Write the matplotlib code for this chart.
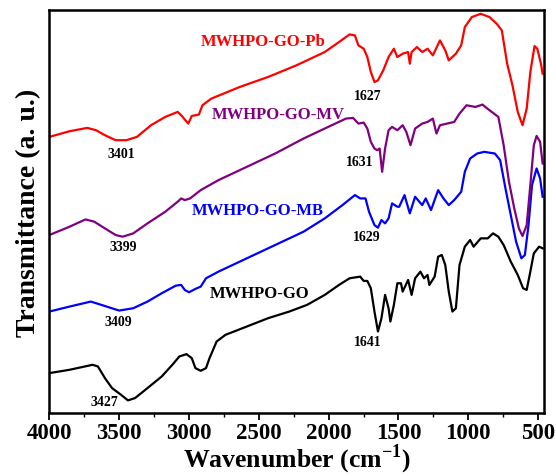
import matplotlib
matplotlib.use("Agg")
import matplotlib.pyplot as plt
from matplotlib.ticker import MultipleLocator

# wavenumber (cm-1) and transmittance (arbitrary, offset)
go_x = [4000, 3855, 3690, 3652, 3602, 3551, 3487, 3437, 3386, 3297, 3195, 3119, 3069, 3018,
        2980, 2954, 2916, 2878, 2853, 2802, 2739, 2586, 2434, 2282, 2155, 2028, 1926, 1850,
        1774, 1749, 1723, 1698, 1672, 1647, 1622, 1596, 1571, 1558, 1533, 1508, 1482, 1470,
        1431, 1406, 1381, 1343, 1317, 1292, 1279, 1241, 1216, 1190, 1165, 1140, 1114, 1089,
        1063, 1025, 987, 962, 911, 861, 823, 785, 747, 696, 646, 608, 582, 556, 531, 493, 468]
go_y = [120, 130, 145, 140, 105, 75, 55, 38, 45, 75, 110, 145, 170, 177,
        165, 135, 127, 135, 165, 215, 235, 260, 285, 305, 325, 355, 385, 405,
        410, 397, 397, 375, 305, 245, 285, 355, 315, 275, 325, 390, 390, 365,
        400, 355, 405, 425, 405, 415, 385, 410, 470, 475, 445, 365, 305, 315,
        445, 500, 520, 500, 525, 525, 540, 530, 505, 455, 415, 375, 370, 425, 480, 500, 495]

mb_x = [4000, 3855, 3703, 3627, 3500, 3399, 3297, 3195, 3094, 3056, 3030, 3000, 2954, 2916,
        2878, 2789, 2586, 2383, 2180, 2028, 1901, 1812, 1774, 1736, 1711, 1672, 1647, 1622,
        1596, 1571, 1546, 1508, 1495, 1457, 1419, 1381, 1330, 1305, 1267, 1216, 1178, 1140,
        1101, 1051, 1025, 987, 937, 886, 810, 772, 734, 696, 658, 620, 595, 569, 544, 511, 486, 468]
mb_y = [305, 320, 335, 325, 308, 315, 335, 360, 383, 385, 370, 363, 373, 380,
        405, 425, 465, 505, 545, 585, 625, 655, 645, 645, 605, 565, 557, 580,
        570, 585, 630, 620, 620, 655, 600, 650, 625, 645, 610, 670, 645, 625,
        640, 665, 725, 765, 780, 785, 780, 760, 675, 595, 515, 465, 475, 565, 685, 735, 705, 650]

mv_x = [4000, 3855, 3741, 3678, 3602, 3525, 3475, 3399, 3297, 3170, 3081, 3056, 3030, 2992,
        2916, 2789, 2586, 2383, 2180, 2003, 1876, 1825, 1787, 1749, 1723, 1698, 1672, 1652,
        1635, 1617, 1596, 1571, 1546, 1508, 1470, 1444, 1414, 1381, 1330, 1292, 1254, 1228,
        1203, 1152, 1101, 1063, 1013, 949, 899, 848, 785, 747, 709, 671, 638, 612, 582, 556,
        531, 511, 486, 468]
mv_y = [535, 560, 582, 575, 555, 535, 530, 540, 570, 605, 635, 645, 640, 645,
        670, 700, 740, 780, 825, 860, 885, 887, 870, 873, 855, 815, 795, 790,
        795, 725, 795, 850, 860, 850, 865, 845, 805, 855, 870, 875, 885, 840,
        865, 870, 875, 900, 925, 920, 927, 910, 890, 805, 695, 615, 555, 532, 565, 685,
        805, 833, 815, 750]

pb_x = [4000, 3855, 3728, 3665, 3602, 3525, 3449, 3373, 3272, 3170, 3081, 3056, 3005, 2980,
        2929, 2904, 2840, 2637, 2434, 2231, 2028, 1926, 1850, 1812, 1787, 1749, 1723, 1698,
        1672, 1647, 1609, 1571, 1533, 1508, 1470, 1431, 1419, 1406, 1368, 1330, 1292, 1254,
        1203, 1165, 1140, 1089, 1051, 1025, 975, 911, 848, 797, 760, 722, 684, 646, 612, 582,
        556, 526, 506, 480, 468]
pb_y = [830, 847, 857, 850, 835, 820, 820, 830, 865, 890, 905, 895, 870, 893,
        897, 925, 945, 980, 1010, 1045, 1085, 1115, 1138, 1135, 1105, 1095, 1070, 1025,
        995, 1000, 1030, 1070, 1095, 1070, 1080, 1085, 1050, 1085, 1100, 1085, 1095, 1075,
        1120, 1090, 1060, 1080, 1105, 1160, 1190, 1200, 1190, 1170, 1150, 1050, 985, 905, 865, 915,
        1025, 1103, 1095, 1050, 1020]

names = ["MWHPO-GO", "MWHPO-GO-MB", "MWHPO-GO-MV", "MWHPO-GO-Pb"]
colors = ["black", "#0000ff", "#800080", "#ff0000"]
name_pos = [(2492, 360), (2510, 610), (2358, 900), (2472, 1117)]

peaks = ["3427", "3409", "3399", "3401", "1641", "1629", "1631", "1627"]
peak_pos = [(3607, 35), (3505, 275), (3470, 500), (3487, 780),
            (1723, 215), (1729, 530), (1779, 755), (1723, 955)]

plt.rcParams["font.family"] = ["Liberation Serif", "DejaVu Serif"]
plt.rcParams["font.weight"] = "bold"
plt.rcParams["mathtext.fontset"] = "custom"
plt.rcParams["mathtext.bf"] = "Liberation Serif:bold"
plt.rcParams["mathtext.rm"] = "Liberation Serif:bold"

fig = plt.figure(figsize=(5.56, 4.77), dpi=100)
ax = fig.add_axes([0.0887, 0.132, 0.890, 0.844])

for xs, ys, c in zip([go_x, mb_x, mv_x, pb_x], [go_y, mb_y, mv_y, pb_y], colors):
    ax.plot(xs, ys, color=c, lw=1.6)

for n, (px, py), c in zip(names, name_pos, colors):
    ax.text(px, py, n, color=c, fontsize=12, fontweight="bold", ha="center", va="center")

for p, (px, py) in zip(peaks, peak_pos):
    ax.text(px, py, p, color="black", fontsize=10, fontweight="bold", ha="center", va="center")

ax.set_xlim(4000, 457)
ax.set_ylim(0, 1210)
ax.xaxis.set_major_locator(MultipleLocator(500))
ax.xaxis.set_minor_locator(MultipleLocator(250))
ax.tick_params(axis="x", direction="out", length=5, width=1.3, labelsize=16.5, pad=1.5)
ax.tick_params(axis="x", which="minor", direction="out", length=3, width=1.0)
ax.set_yticks([])
for s in ax.spines.values():
    s.set_linewidth(1.8)
ax.set_xlabel("Wavenumber (cm$^{-1}$)", fontsize=18.5, fontweight="bold", labelpad=-1)
ax.set_ylabel("Transmittance (a. u.)", fontsize=20, fontweight="bold", labelpad=6)

fig.savefig("out.png", dpi=100)
